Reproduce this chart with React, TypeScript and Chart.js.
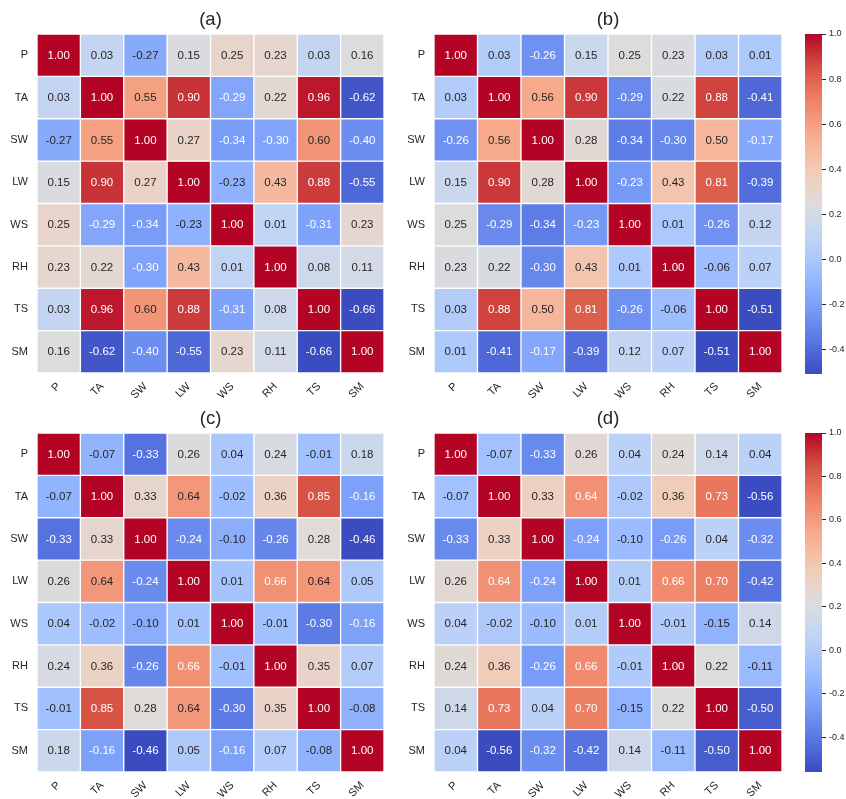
import React, { useEffect, useRef } from "react";
import { Chart, registerables } from "chart.js";
Chart.register(...registerables);

const VARS = ["P", "TA", "SW", "LW", "WS", "RH", "TS", "SM"];

const PANEL_A = [
  [1.0, 0.03, -0.27, 0.15, 0.25, 0.23, 0.03, 0.16],
  [0.03, 1.0, 0.55, 0.9, -0.29, 0.22, 0.96, -0.62],
  [-0.27, 0.55, 1.0, 0.27, -0.34, -0.3, 0.6, -0.4],
  [0.15, 0.9, 0.27, 1.0, -0.23, 0.43, 0.88, -0.55],
  [0.25, -0.29, -0.34, -0.23, 1.0, 0.01, -0.31, 0.23],
  [0.23, 0.22, -0.3, 0.43, 0.01, 1.0, 0.08, 0.11],
  [0.03, 0.96, 0.6, 0.88, -0.31, 0.08, 1.0, -0.66],
  [0.16, -0.62, -0.4, -0.55, 0.23, 0.11, -0.66, 1.0],
];

const PANEL_B = [
  [1.0, 0.03, -0.26, 0.15, 0.25, 0.23, 0.03, 0.01],
  [0.03, 1.0, 0.56, 0.9, -0.29, 0.22, 0.88, -0.41],
  [-0.26, 0.56, 1.0, 0.28, -0.34, -0.3, 0.5, -0.17],
  [0.15, 0.9, 0.28, 1.0, -0.23, 0.43, 0.81, -0.39],
  [0.25, -0.29, -0.34, -0.23, 1.0, 0.01, -0.26, 0.12],
  [0.23, 0.22, -0.3, 0.43, 0.01, 1.0, -0.06, 0.07],
  [0.03, 0.88, 0.5, 0.81, -0.26, -0.06, 1.0, -0.51],
  [0.01, -0.41, -0.17, -0.39, 0.12, 0.07, -0.51, 1.0],
];

const PANEL_C = [
  [1.0, -0.07, -0.33, 0.26, 0.04, 0.24, -0.01, 0.18],
  [-0.07, 1.0, 0.33, 0.64, -0.02, 0.36, 0.85, -0.16],
  [-0.33, 0.33, 1.0, -0.24, -0.1, -0.26, 0.28, -0.46],
  [0.26, 0.64, -0.24, 1.0, 0.01, 0.66, 0.64, 0.05],
  [0.04, -0.02, -0.1, 0.01, 1.0, -0.01, -0.3, -0.16],
  [0.24, 0.36, -0.26, 0.66, -0.01, 1.0, 0.35, 0.07],
  [-0.01, 0.85, 0.28, 0.64, -0.3, 0.35, 1.0, -0.08],
  [0.18, -0.16, -0.46, 0.05, -0.16, 0.07, -0.08, 1.0],
];

const PANEL_D = [
  [1.0, -0.07, -0.33, 0.26, 0.04, 0.24, 0.14, 0.04],
  [-0.07, 1.0, 0.33, 0.64, -0.02, 0.36, 0.73, -0.56],
  [-0.33, 0.33, 1.0, -0.24, -0.1, -0.26, 0.04, -0.32],
  [0.26, 0.64, -0.24, 1.0, 0.01, 0.66, 0.7, -0.42],
  [0.04, -0.02, -0.1, 0.01, 1.0, -0.01, -0.15, 0.14],
  [0.24, 0.36, -0.26, 0.66, -0.01, 1.0, 0.22, -0.11],
  [0.14, 0.73, 0.04, 0.7, -0.15, 0.22, 1.0, -0.5],
  [0.04, -0.56, -0.32, -0.42, 0.14, -0.11, -0.5, 1.0],
];

const CBAR_TICKS = [-0.4, -0.2, 0.0, 0.2, 0.4, 0.6, 0.8, 1.0];

const COOLWARM = [
  "#3b4cc0", "#5977e3", "#7b9ff9", "#9ebeff", "#c0d4f5", "#dddcdc",
  "#f2cbb7", "#f7ac8e", "#ee8468", "#d65244", "#b40426",
];

const FONT = '"Liberation Sans", Arial, sans-serif';
const TEXT_DARK = "#262626";

function hexToRgb(h: string): number[] {
  return [parseInt(h.slice(1, 3), 16), parseInt(h.slice(3, 5), 16), parseInt(h.slice(5, 7), 16)];
}
const CW_RGB = COOLWARM.map(hexToRgb);

function cmap(t: number): number[] {
  const tt = Math.max(0, Math.min(1, t));
  const p = tt * (CW_RGB.length - 1);
  const i = Math.min(CW_RGB.length - 2, Math.floor(p));
  const f = p - i;
  const a = CW_RGB[i];
  const b = CW_RGB[i + 1];
  return [0, 1, 2].map((k) => a[k] + (b[k] - a[k]) * f);
}
function rgbStr(c: number[]): string {
  return `rgb(${Math.round(c[0])},${Math.round(c[1])},${Math.round(c[2])})`;
}
function luminance(c: number[]): number {
  const lin = c.map((v) => {
    const s = v / 255;
    return s <= 0.03928 ? s / 12.92 : Math.pow((s + 0.055) / 1.055, 2.4);
  });
  return 0.2126 * lin[0] + 0.7152 * lin[1] + 0.0722 * lin[2];
}

type HeatProps = {
  matrix: number[][];
  title: string;
  left: number;
  top: number;
  padRight: number;
};

function Heatmap({ matrix, title, left, top, padRight }: HeatProps) {
  const ref = useRef<HTMLCanvasElement | null>(null);
  useEffect(() => {
    if (!ref.current) return;
    const flat = matrix.flat();
    const vmin = Math.min(...flat);
    const vmax = Math.max(...flat);
    const color = (v: number) => cmap((v - vmin) / (vmax - vmin));

    const datasets = matrix.map((row, r) => ({
      label: VARS[r],
      data: row.map(() => [r - 0.5, r + 0.5]),
      backgroundColor: row.map((v) => rgbStr(color(v))),
      borderColor: "#ffffff",
      borderWidth: 1,
      borderSkipped: false,
      barPercentage: 1,
      categoryPercentage: 1,
      grouped: false,
    }));

    const annot = {
      id: "annot",
      afterDatasetsDraw(chart: any) {
        const ctx = chart.ctx;
        ctx.save();
        ctx.font = `11.5px ${FONT}`;
        ctx.textAlign = "center";
        ctx.textBaseline = "middle";
        matrix.forEach((row, r) => {
          const meta = chart.getDatasetMeta(r);
          meta.data.forEach((el: any, c: number) => {
            const v = row[c];
            ctx.fillStyle = luminance(color(v)) > 0.408 ? TEXT_DARK : "#ffffff";
            const p = el.getCenterPoint();
            ctx.fillText(v.toFixed(2), p.x, p.y + 0.5);
          });
        });
        const ca = chart.chartArea;
        ctx.font = `18.5px ${FONT}`;
        ctx.fillStyle = TEXT_DARK;
        ctx.fillText(title, (ca.left + ca.right) / 2, ca.top - 14);
        ctx.restore();
      },
    };

    const chart = new Chart(ref.current, {
      type: "bar",
      data: { labels: VARS, datasets: datasets as any },
      options: {
        responsive: false,
        animation: false,
        layout: { padding: { left: 0, top: 34, right: padRight, bottom: 0 } },
        plugins: {
          legend: { display: false },
          tooltip: { enabled: false },
          title: { display: false },
        },
        scales: {
          x: {
            type: "category",
            offset: true,
            grid: { display: false, drawTicks: false },
            border: { display: false },
            ticks: {
              minRotation: 45,
              maxRotation: 45,
              autoSkip: false,
              padding: 7,
              color: TEXT_DARK,
              font: { family: FONT, size: 11 },
            },
            afterFit: (s: any) => {
              s.height = 27;
            },
          },
          y: {
            type: "linear",
            reverse: true,
            min: -0.5,
            max: 7.5,
            grid: { display: false, drawTicks: false },
            border: { display: false },
            afterBuildTicks: (s: any) => {
              s.ticks = VARS.map((_, i) => ({ value: i }));
            },
            ticks: {
              padding: 9,
              color: TEXT_DARK,
              font: { family: FONT, size: 11 },
              callback: (v: any) => VARS[Number(v)] ?? "",
            },
            afterFit: (s: any) => {
              s.width = 37;
            },
          },
        },
      } as any,
      plugins: [annot],
    });
    return () => chart.destroy();
  }, [matrix, title, padRight]);

  return (
    <canvas
      ref={ref}
      width={400}
      height={400}
      style={{ position: "absolute", left, top, width: 400, height: 400 }}
    />
  );
}

type CbarProps = { matrix: number[][]; top: number; padBottom: number };

function Colorbar({ matrix, top, padBottom }: CbarProps) {
  const ref = useRef<HTMLCanvasElement | null>(null);
  useEffect(() => {
    if (!ref.current) return;
    const flat = matrix.flat();
    const vmin = Math.min(...flat);
    const vmax = Math.max(...flat);
    const chart = new Chart(ref.current, {
      type: "bar",
      data: {
        labels: [""],
        datasets: [
          {
            data: [[vmin, vmax]],
            backgroundColor: (ctx: any) => {
              const area = ctx.chart.chartArea;
              if (!area) return COOLWARM[5];
              const g = ctx.chart.ctx.createLinearGradient(0, area.bottom, 0, area.top);
              COOLWARM.forEach((c, i) => g.addColorStop(i / (COOLWARM.length - 1), c));
              return g;
            },
            borderWidth: 0,
            barPercentage: 1,
            categoryPercentage: 1,
          } as any,
        ],
      },
      options: {
        responsive: false,
        animation: false,
        layout: { padding: { left: 15, top: 34, right: 0, bottom: padBottom } },
        plugins: { legend: { display: false }, tooltip: { enabled: false } },
        scales: {
          x: { display: false },
          y: {
            position: "right",
            min: vmin,
            max: vmax,
            grid: { drawOnChartArea: false, drawTicks: true, tickLength: 4, color: TEXT_DARK },
            border: { display: false },
            afterBuildTicks: (s: any) => {
              s.ticks = CBAR_TICKS.map((v) => ({ value: v }));
            },
            ticks: {
              padding: 3,
              color: TEXT_DARK,
              font: { family: FONT, size: 9 },
              callback: (v: any) => Number(v).toFixed(1),
            },
            afterFit: (s: any) => {
              s.width = 24;
            },
          },
        },
      } as any,
    });
    return () => chart.destroy();
  }, [matrix, padBottom]);

  return (
    <canvas
      ref={ref}
      width={56}
      height={400}
      style={{ position: "absolute", left: 790, top, width: 56, height: 400 }}
    />
  );
}

export default function App() {
  return (
    <div style={{ position: "absolute", left: 0, top: 0, width: 846, height: 799, background: "#ffffff", overflow: "hidden" }}>
      <Heatmap matrix={PANEL_A} title="(a)" left={0} top={0} padRight={16} />
      <Heatmap matrix={PANEL_B} title="(b)" left={397} top={0} padRight={15} />
      <Heatmap matrix={PANEL_C} title="(c)" left={0} top={399} padRight={16} />
      <Heatmap matrix={PANEL_D} title="(d)" left={397} top={399} padRight={15} />
      <Colorbar matrix={PANEL_B} top={0} padBottom={26} />
      <Colorbar matrix={PANEL_D} top={399} padBottom={27} />
    </div>
  );
}
